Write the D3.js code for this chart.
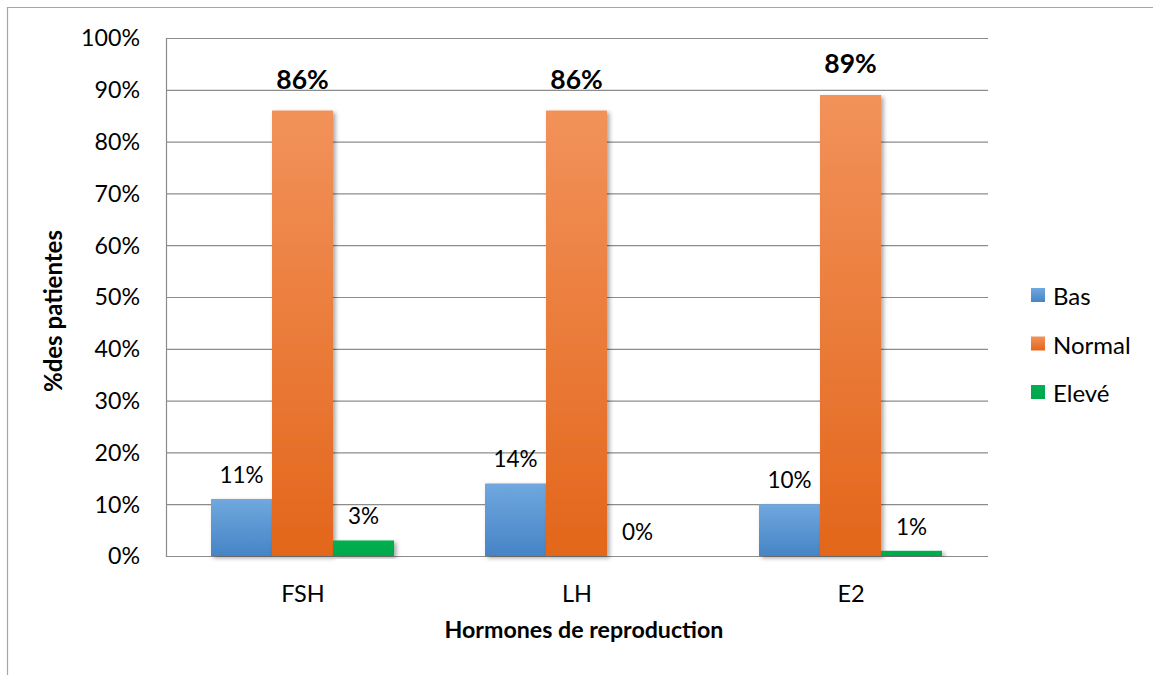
<!DOCTYPE html>
<html>
<head>
<meta charset="utf-8">
<script src="https://cdn.jsdelivr.net/npm/d3@7"></script>
<style>
  html, body { margin: 0; padding: 0; background: #fff; }
  svg { display: block; font-family: Lato, "Open Sans", sans-serif; }
</style>
</head>
<body>
<svg id="chart" width="1153" height="675"></svg>
<script>
// ---- data ----
const categories = ["FSH", "LH", "E2"];
const seriesNames = ["Bas", "Normal", "Elevé"];
const basValues = [0.11, 0.14, 0.10];
const normalValues = [0.86, 0.86, 0.89];
const eleveValues = [0.03, 0.00, 0.01];
const yTicks = [0, 0.1, 0.2, 0.3, 0.4, 0.5, 0.6, 0.7, 0.8, 0.9, 1.0];
const xTitle = "Hormones de reproduction";
const yTitle = "%des patientes";

const seriesValues = [basValues, normalValues, eleveValues];

// ---- layout ----
const W = 1153, H = 675;
const plot = { left: 166, right: 988, top: 38, bottom: 556 };

const svg = d3.select("#chart");

// outer frame (cut off on the right/bottom as in the reference)
svg.append("path")
  .attr("d", `M7.5,${H + 2} L7.5,7.5 L${W + 2},7.5`)
  .attr("fill", "none").attr("stroke", "#a6a6a6").attr("stroke-width", 1.2);

const defs = svg.append("defs");
const grads = [
  { id: "gBas", top: "#70a8de", bottom: "#4684c6" },
  { id: "gNormal", top: "#f2925a", bottom: "#e3661b" },
  { id: "gEleve", top: "#00b050", bottom: "#00a84b" }
];
grads.forEach(g => {
  const lg = defs.append("linearGradient").attr("id", g.id)
    .attr("x1", 0).attr("y1", 0).attr("x2", 0).attr("y2", 1);
  lg.append("stop").attr("offset", "0%").attr("stop-color", g.top);
  lg.append("stop").attr("offset", "100%").attr("stop-color", g.bottom);
});
const f = defs.append("filter").attr("id", "shadow")
  .attr("x", "-20%").attr("y", "-5%").attr("width", "150%").attr("height", "120%");
f.append("feDropShadow").attr("dx", 2.5).attr("dy", 2).attr("stdDeviation", 2)
  .attr("flood-color", "#000").attr("flood-opacity", 0.35);

// ---- scales ----
const y = d3.scaleLinear().domain([0, 1]).range([plot.bottom, plot.top]);
const x0 = d3.scaleBand().domain(categories).range([plot.left, plot.right]).padding(0);
const x1 = d3.scaleBand().domain(seriesNames).range([45, 228]).padding(0);

// ---- gridlines ----
const yAxis = d3.axisLeft(y).tickValues(yTicks).tickSize(-(plot.right - plot.left))
  .tickFormat(d3.format(".0%"));
const gy = svg.append("g").attr("transform", `translate(${plot.left},0)`).call(yAxis);
gy.select(".domain").attr("stroke", "#8c8c8c").attr("stroke-width", 1.2);
gy.selectAll(".tick line").attr("stroke", "#8c8c8c").attr("stroke-width", 1.2);
gy.selectAll(".tick text")
  .attr("x", 140 - plot.left).attr("dy", "0.34em")
  .attr("font-size", 23.2).attr("fill", "#000")
  .attr("font-family", "Lato, sans-serif");
gy.attr("font-size", null).attr("font-family", null);

// ---- x axis labels ----
const xAxis = d3.axisBottom(x0).tickSize(0).tickPadding(0);
const gx = svg.append("g").attr("transform", `translate(0,${plot.bottom})`).call(xAxis);
gx.select(".domain").remove();
gx.selectAll(".tick text")
  .attr("y", 46).attr("dy", 0)
  .attr("font-size", 23.5).attr("fill", "#000").attr("font-family", "Lato, sans-serif");
gx.attr("font-size", null).attr("font-family", null);

// ---- bars ----
const colorIds = ["gBas", "gNormal", "gEleve"];
const groups = svg.append("g").selectAll("g").data(categories).join("g")
  .attr("transform", d => `translate(${x0(d)},0)`);

groups.each(function (cat, ci) {
  const g = d3.select(this);
  seriesNames.forEach((s, si) => {
    const v = seriesValues[si][ci];
    if (v > 0) {
      g.append("rect")
        .attr("x", x1(s)).attr("width", x1.bandwidth())
        .attr("y", y(v)).attr("height", y(0) - y(v))
        .attr("fill", `url(#${colorIds[si]})`)
        .attr("filter", "url(#shadow)");
    }
  });
});

// ---- value labels ----
groups.each(function (cat, ci) {
  const g = d3.select(this);
  seriesNames.forEach((s, si) => {
    const v = seriesValues[si][ci];
    const bold = si === 1;
    g.append("text")
      .attr("x", x1(s) + x1.bandwidth() / 2)
      .attr("y", y(v) - (bold ? 22 : 16))
      .attr("text-anchor", "middle")
      .attr("font-size", bold ? 26.5 : 22.5)
      .attr("font-weight", bold ? "bold" : "normal")
      .attr("fill", "#000")
      .text(d3.format(".0%")(v));
  });
});

// ---- axis titles ----
svg.append("text")
  .attr("x", 584).attr("y", 638)
  .attr("text-anchor", "middle")
  .attr("font-size", 23.2).attr("font-weight", "bold")
  .text(xTitle);

svg.append("text")
  .attr("transform", "translate(62,311) rotate(-90)")
  .attr("text-anchor", "middle")
  .attr("font-size", 24).attr("font-weight", "bold")
  .text(yTitle);

// ---- legend ----
const legend = svg.append("g").attr("transform", "translate(1031,288)");
const li = legend.selectAll("g").data(seriesNames).join("g")
  .attr("transform", (d, i) => `translate(0,${i * 48.5})`);
li.append("rect").attr("width", 14).attr("height", 14)
  .attr("fill", (d, i) => `url(#${colorIds[i]})`);
li.append("text").attr("x", 22).attr("y", 17)
  .attr("font-size", 24).attr("fill", "#000")
  .text(d => d);
</script>
</body>
</html>
